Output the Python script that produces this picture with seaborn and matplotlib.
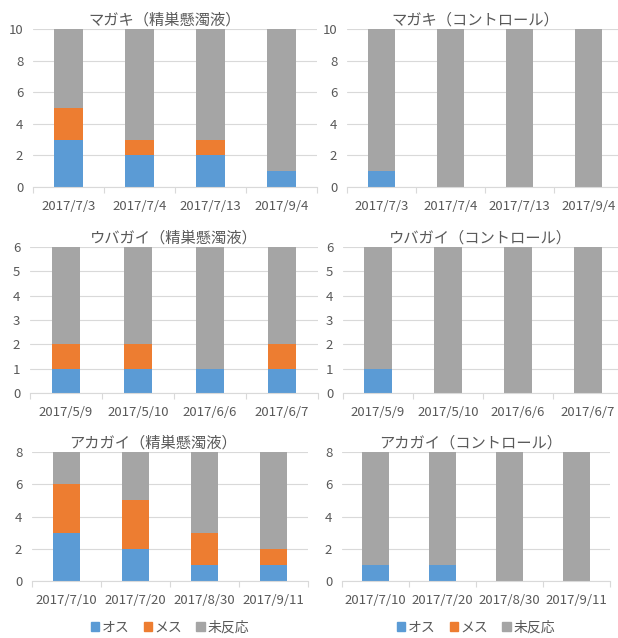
import numpy as np
import seaborn as sns
import matplotlib.pyplot as plt
from matplotlib.patches import Patch

# series names / colours (Excel default palette)
series_names = ['オス', 'メス', '未反応']
BLUE, ORANGE, GRAY = '#5B9BD5', '#ED7D31', '#A5A5A5'
TEXT = '#595959'
GRID = '#D9D9D9'

# マガキ
magaki_dates = ['2017/7/3', '2017/7/4', '2017/7/13', '2017/9/4']
magaki_sperm_osu = [3, 2, 2, 1]
magaki_sperm_mesu = [2, 1, 1, 0]
magaki_sperm_none = [5, 7, 7, 9]
magaki_ctrl_osu = [1, 0, 0, 0]
magaki_ctrl_mesu = [0, 0, 0, 0]
magaki_ctrl_none = [9, 10, 10, 10]

# ウバガイ
ubagai_dates = ['2017/5/9', '2017/5/10', '2017/6/6', '2017/6/7']
ubagai_sperm_osu = [1, 1, 1, 1]
ubagai_sperm_mesu = [1, 1, 0, 1]
ubagai_sperm_none = [4, 4, 5, 4]
ubagai_ctrl_osu = [1, 0, 0, 0]
ubagai_ctrl_mesu = [0, 0, 0, 0]
ubagai_ctrl_none = [5, 6, 6, 6]

# アカガイ
akagai_dates = ['2017/7/10', '2017/7/20', '2017/8/30', '2017/9/11']
akagai_sperm_osu = [3, 2, 1, 1]
akagai_sperm_mesu = [3, 3, 2, 1]
akagai_sperm_none = [2, 3, 5, 6]
akagai_ctrl_osu = [1, 1, 0, 0]
akagai_ctrl_mesu = [0, 0, 0, 0]
akagai_ctrl_none = [7, 7, 8, 8]

sns.set_theme(style='white')
plt.rcParams['font.family'] = ['Noto Sans CJK JP', 'DejaVu Sans']

W, H = 618, 638
fig = plt.figure(figsize=(W / 100, H / 100), dpi=100)
fig.patch.set_facecolor('white')


def axes_at(left, top, right, bottom):
    # pixel box -> figure fraction
    return fig.add_axes([left / W, 1 - bottom / H, (right - left) / W, (bottom - top) / H])


def draw_panel(ax, dates, osu, mesu, none, title, ymax, ystep, title_x, legend=False):
    osu = np.array(osu)
    mesu = np.array(mesu)
    none = np.array(none)
    # stacked bars: draw cumulative totals back to front
    for vals, col in [(osu + mesu + none, GRAY), (osu + mesu, ORANGE), (osu, BLUE)]:
        sns.barplot(x=dates, y=vals, order=dates, color=col, width=0.4,
                    saturation=1, linewidth=0, ax=ax)
    ax.set_xlim(-0.5, len(dates) - 0.5)
    ax.set_ylim(0, ymax)
    ax.set_yticks(np.arange(0, ymax + 1, ystep))
    ax.set_xlabel('')
    ax.set_ylabel('')
    ax.set_axisbelow(True)
    ax.yaxis.grid(True, color=GRID, lw=0.8)
    for s in ['left', 'top', 'right']:
        ax.spines[s].set_visible(False)
    ax.spines['bottom'].set_color(GRID)
    ax.spines['bottom'].set_linewidth(0.8)
    ax.set_xticks(np.arange(-0.5, len(dates)), minor=True)
    ax.tick_params(axis='x', which='major', length=0, pad=9, labelsize=9.5, labelcolor=TEXT)
    ax.tick_params(axis='x', which='minor', bottom=True, length=4, width=0.8, color=GRID)
    ax.tick_params(axis='y', length=0, pad=7, labelsize=9.5, labelcolor=TEXT)
    ax.set_title(title, x=title_x, fontsize=11, color=TEXT, pad=3)
    if legend:
        handles = [Patch(color=c) for c in [BLUE, ORANGE, GRAY]]
        ax.legend(handles, series_names, loc='center', bbox_to_anchor=(0.5, -0.36),
                  ncol=3, frameon=False, fontsize=10, labelcolor=TEXT,
                  handlelength=0.6, handleheight=0.6, handletextpad=0.2,
                  columnspacing=1.0)


draw_panel(axes_at(33, 29, 317, 187), magaki_dates, magaki_sperm_osu, magaki_sperm_mesu,
           magaki_sperm_none, 'マガキ（精巣懸濁液）', 10, 2, 0.465)
draw_panel(axes_at(347, 29, 623, 187), magaki_dates, magaki_ctrl_osu, magaki_ctrl_mesu,
           magaki_ctrl_none, 'マガキ（コントロール）', 10, 2, 0.464)
draw_panel(axes_at(30, 247, 318, 393), ubagai_dates, ubagai_sperm_osu, ubagai_sperm_mesu,
           ubagai_sperm_none, 'ウバガイ（精巣懸濁液）', 6, 1, 0.5)
draw_panel(axes_at(343, 247, 623, 393), ubagai_dates, ubagai_ctrl_osu, ubagai_ctrl_mesu,
           ubagai_ctrl_none, 'ウバガイ（コントロール）', 6, 1, 0.49)
draw_panel(axes_at(32, 452, 308, 581), akagai_dates, akagai_sperm_osu, akagai_sperm_mesu,
           akagai_sperm_none, 'アカガイ（精巣懸濁液）', 8, 2, 0.44, legend=True)
draw_panel(axes_at(342, 452, 610, 581), akagai_dates, akagai_ctrl_osu, akagai_ctrl_mesu,
           akagai_ctrl_none, 'アカガイ（コントロール）', 8, 2, 0.48, legend=True)

fig.savefig('out.png', dpi=100, facecolor='white')
